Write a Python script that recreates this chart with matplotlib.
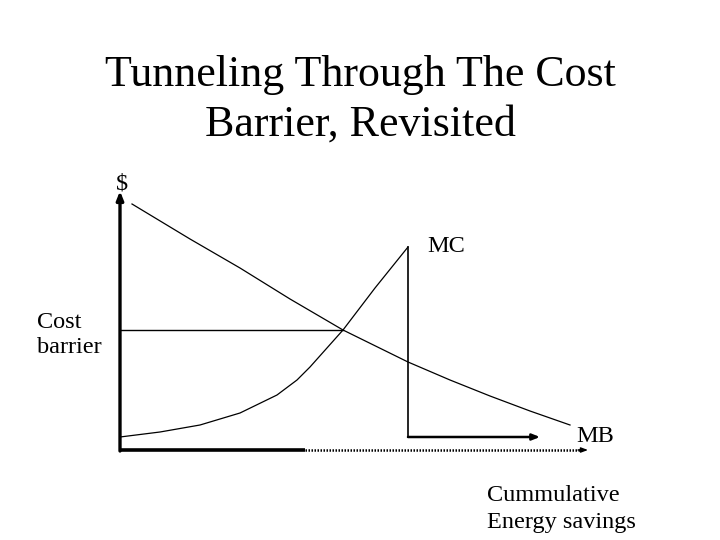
import matplotlib
matplotlib.use("Agg")
import matplotlib.pyplot as plt

plt.rcParams['font.family'] = ['Liberation Serif', 'DejaVu Serif']

# Curve points (x right, y down, slide pixel units)
mb_x = [132, 190, 240, 290, 343, 408, 450, 490, 530, 570]
mb_y = [204, 239, 268, 299, 330, 362, 380, 396, 411, 425]

mc_x = [120, 160, 200, 240, 277, 297, 310, 343, 375, 408]
mc_y = [437, 432, 425, 413, 395, 380, 367, 330, 288, 247]

# Tunnel: drop from top of MC, then run right
tunnel_x = [408, 408, 540]
tunnel_y = [247, 437, 437]

barrier_y = 330
barrier_x = [120, 343]

title_lines = "Tunneling Through The Cost\nBarrier, Revisited"

fig = plt.figure(figsize=(7.2, 5.4), dpi=100)
ax = fig.add_axes([0, 0, 1, 1])
ax.set_xlim(0, 720)
ax.set_ylim(540, 0)
ax.axis('off')

ink = 'black'

# axes: y with arrow, x solid then dotted with arrow
ax.annotate('', xy=(120, 191), xytext=(120, 451),
            arrowprops=dict(arrowstyle='-|>,head_length=0.5,head_width=0.2',
                            lw=2.4, color=ink, shrinkA=0, shrinkB=0))
ax.plot([120, 305], [450, 450], color=ink, lw=2.6, solid_capstyle='butt')
ax.plot([305, 582], [450, 450], color=ink, lw=1.8, ls=(0, (0.6, 0.6)))
ax.annotate('', xy=(588, 450), xytext=(578, 450),
            arrowprops=dict(arrowstyle='-|>,head_length=0.4,head_width=0.15',
                            lw=1.0, color=ink, shrinkA=0, shrinkB=0))

# curves
ax.plot(mb_x, mb_y, color=ink, lw=0.9)
ax.plot(mc_x, mc_y, color=ink, lw=0.9)
ax.plot(tunnel_x[:2], tunnel_y[:2], color=ink, lw=1.2)
ax.annotate('', xy=(tunnel_x[2], tunnel_y[2]), xytext=(tunnel_x[1], tunnel_y[1]),
            arrowprops=dict(arrowstyle='-|>,head_length=0.45,head_width=0.18',
                            lw=1.8, color=ink, shrinkA=0, shrinkB=0))
ax.plot(barrier_x, [barrier_y, barrier_y], color=ink, lw=1.0)

# text
ax.text(360, 100, title_lines, ha='center', va='center', fontsize=31.7,
        linespacing=1.3)
ax.text(122, 184, '$', ha='center', va='center', fontsize=17.5)
ax.text(427, 246, 'MC', ha='left', va='center', fontsize=17.5)
ax.text(576, 436, 'MB', ha='left', va='center', fontsize=17.5)
ax.text(37, 335, 'Cost\nbarrier', ha='left', va='center', fontsize=17.5,
        linespacing=1.2)
ax.text(487, 509, 'Cummulative\nEnergy savings', ha='left', va='center',
        fontsize=17.5, linespacing=1.4)

fig.savefig('out.png', dpi=100)
